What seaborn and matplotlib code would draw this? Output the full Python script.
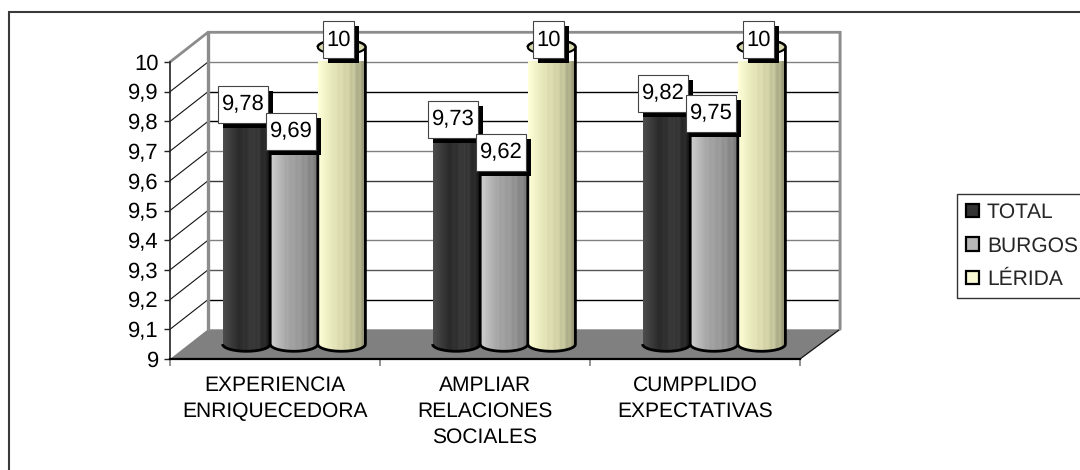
import matplotlib
matplotlib.use('Agg')
import numpy as np
import pandas as pd
import seaborn as sns
import matplotlib.pyplot as plt
from matplotlib.colors import LinearSegmentedColormap
from matplotlib.lines import Line2D
from matplotlib.patches import PathPatch, Polygon, Rectangle
from matplotlib.path import Path
from matplotlib.transforms import ScaledTranslation

# the values of the chart
categories = ['EXPERIENCIA\nENRIQUECEDORA', 'AMPLIAR\nRELACIONES\nSOCIALES', 'CUMPPLIDO\nEXPECTATIVAS']
total = [9.78, 9.73, 9.82]
burgos = [9.69, 9.62, 9.75]
lerida = [10, 10, 10]
value_labels = {'TOTAL': ['9,78', '9,73', '9,82'],
                'BURGOS': ['9,69', '9,62', '9,75'],
                'LÉRIDA': ['10', '10', '10']}
y_ticks = [9, 9.1, 9.2, 9.3, 9.4, 9.5, 9.6, 9.7, 9.8, 9.9, 10]
y_tick_labels = ['9', '9,1', '9,2', '9,3', '9,4', '9,5', '9,6', '9,7', '9,8', '9,9', '10']

W, H = 1080, 470
DEPTH_X = 38 / 210   # depth of the fake 3d box, in category units
DEPTH_Y = 0.1        # same, in value units
BACK_EXTRA = 2 / 210 # back wall ends a bit further right
FONT = 15.2
NUM_FONT = 16

sns.set_theme(style='white')
plt.rcParams['font.family'] = ['Liberation Sans', 'DejaVu Sans']
plt.rcParams['text.hinting'] = 'no_hinting'
plt.rcParams['text.hinting_factor'] = 1

df = pd.DataFrame({'categoria': categories * 3,
                   'valor': total + burgos + lerida,
                   'serie': ['TOTAL'] * 3 + ['BURGOS'] * 3 + ['LÉRIDA'] * 3})
palette = {'TOTAL': '#333333', 'BURGOS': '#b8b8b8', 'LÉRIDA': '#ffffd0'}
gradients = {'TOTAL': ['#4c4c4c', '#2a2a2a', '#3c3c3c', '#1c1c1c'],
             'BURGOS': ['#d0d0d0', '#a8a8a8', '#989898', '#7c7c7c'],
             'LÉRIDA': ['#ffffd8', '#e4e4b8', '#d0d0a4', '#98987a']}
cap_colors = {'TOTAL': '#555555', 'BURGOS': '#c8c8c8', 'LÉRIDA': '#d8d8b0'}

fig = plt.figure(figsize=(W / 100, H / 100), dpi=100)
ax = fig.add_axes([170 / W, 1 - 359 / H, 630 / W, 297 / H])
sns.barplot(data=df, x='categoria', y='valor', hue='serie', palette=palette,
            width=0.68, gap=0, ax=ax, zorder=3)
ax.set_xlim(-0.5, 2.5)
ax.set_ylim(9, 10)
ax.set_xlabel('')
ax.set_ylabel('')
ax.patch.set_visible(False)
ax.set_yticks(y_ticks)
ax.set_yticklabels(y_tick_labels, fontsize=NUM_FONT, color='black')
ax.set_xticks([-0.5, 0.5, 1.5, 2.5], minor=True)
ax.tick_params(axis='x', which='major', length=0, labelsize=FONT, pad=12, labelcolor='black')
ax.tick_params(axis='x', which='minor', length=5, width=1.2, color='#808080', bottom=True)
ax.tick_params(axis='y', length=4, width=1, color='#222222', left=True, pad=4)
for lab in ax.get_xticklabels():
    lab.set_linespacing(1.42)
sns.despine(ax=ax, top=True, right=True)
ax.spines['left'].set_color('#222222')
ax.spines['left'].set_linewidth(1.2)
ax.spines['bottom'].set_color('black')
ax.spines['bottom'].set_linewidth(1.6)
ax.spines['bottom'].set_zorder(2.5)

# floor and walls of the box
x0, x1 = -0.5, 2.5
xb = x1 + DEPTH_X + BACK_EXTRA
ax.add_patch(Polygon([(x0, 9), (x1, 9), (xb, 9 + DEPTH_Y), (x0 + DEPTH_X, 9 + DEPTH_Y)],
                     closed=True, facecolor='#808080', edgecolor='none', zorder=1, clip_on=False))
ax.plot([x1, xb], [9, 9 + DEPTH_Y], color='#111111', lw=0.9, zorder=1.2, clip_on=False)
line_colors = ['#000000', '#555555', '#808080', '#606060', '#3a3a3a', '#808080',
               '#000000', '#000000', '#808080']
for v, c in zip(y_ticks[1:10], line_colors):
    ax.plot([x0, x0 + DEPTH_X], [v, v + DEPTH_Y], color='#111111', lw=0.8, zorder=1, clip_on=False)
    ax.plot([x0 + DEPTH_X, xb], [v + DEPTH_Y, v + DEPTH_Y], color=c, lw=1.0, zorder=1, clip_on=False)
ax.plot([x0, x0 + DEPTH_X, xb, xb], [10, 10 + DEPTH_Y, 10 + DEPTH_Y, 9 + DEPTH_Y],
        color='#8c8c8c', lw=2.0, zorder=1.5, clip_on=False, solid_joinstyle='miter')
ax.plot([x0 + DEPTH_X, x0 + DEPTH_X], [10 + DEPTH_Y, 9 + DEPTH_Y], color='#8c8c8c', lw=2.4, zorder=1.5, clip_on=False)
ax.plot([xb + 0.006] * 2, [10 + DEPTH_Y, 9 + DEPTH_Y], color='#dddddd', lw=1.2, zorder=1.4, clip_on=False)

# turn the seaborn bars into cylinders, standing half way into the box
RY = 0.024
theta = np.linspace(0, np.pi, 40)
# shading across a cylinder, with the faint banding of the old office renderer
shade = np.linspace(0, 1, 48)
shade = np.clip(shade + 0.05 * np.sin(shade * 48) * (shade > 0.35), 0, 1).reshape(1, -1)
labels_todo = []
z = 3
for serie, container in zip(palette, ax.containers):
    cmap = LinearSegmentedColormap.from_list(serie, gradients[serie])
    for i, bar in enumerate(container):
        bar.set_visible(False)
        hw = bar.get_width() / 2
        cx = bar.get_x() + hw + DEPTH_X / 2
        top = bar.get_height() + DEPTH_Y / 2
        bot = 9 + DEPTH_Y / 2
        xs = np.r_[cx - hw * np.cos(theta), cx + hw * np.cos(theta)]
        ys = np.r_[top + RY * np.sin(theta), bot - RY * np.sin(theta)]
        outline = Path(np.c_[xs, ys], closed=False)
        body = PathPatch(outline, facecolor='none', edgecolor='black', lw=2.0, zorder=z + 0.2, clip_on=False)
        ax.add_patch(body)
        im = ax.imshow(shade, cmap=cmap, aspect='auto',
                       extent=(cx - hw, cx + hw, bot - RY, top + RY), zorder=z, interpolation='nearest')
        clip = PathPatch(outline, transform=ax.transData)
        im.set_clip_path(clip)
        im.set_clip_box(None)
        capx = cx + hw * np.cos(2 * theta)
        capy = top + RY * np.sin(2 * theta)
        ax.fill(capx, capy, facecolor=cap_colors[serie], edgecolor='black', lw=1.5, zorder=z + 0.3, clip_on=False)
        labels_todo.append((i, cx, top, value_labels[serie][i]))
        z += 0.01
ax.set_xlim(-0.5, 2.5)
ax.set_ylim(9, 10)

# data labels, white boxes with a hard black shadow
fig.canvas.draw()
renderer = fig.canvas.get_renderer()
labels_todo.sort(key=lambda t: t[0])
for n, (i, cx, top, s) in enumerate(labels_todo):
    zz = 10 + n
    tr = ScaledTranslation(cx, top, ax.transData)
    txt = ax.text(-3, 7.5, s, transform=tr, fontsize=NUM_FONT, color='black', ha='center', va='center',
                  zorder=zz + 0.2, clip_on=False)
    w = txt.get_window_extent(renderer).width + 7
    ax.add_patch(Rectangle((-3 - w / 2 + 5, 7.5 - 18.5 - 5), w, 37, transform=tr, facecolor='black',
                           edgecolor='none', zorder=zz, clip_on=False))
    ax.add_patch(Rectangle((-3 - w / 2, 7.5 - 18.5), w, 37, transform=tr, facecolor='white',
                           edgecolor='#444444', lw=0.8, zorder=zz + 0.1, clip_on=False))

# legend
handles, names = ax.get_legend_handles_labels()
leg = ax.legend(handles, names, loc='upper left', bbox_to_anchor=(957 / W, 1 - 194 / H),
                bbox_transform=fig.transFigure, fontsize=15, frameon=True, fancybox=False,
                edgecolor='#333333', framealpha=1, borderaxespad=0, borderpad=0.42,
                labelspacing=0.66, handlelength=0.62, handleheight=0.62, handletextpad=0.4)
leg.get_frame().set_linewidth(1.0)
leg.set_in_layout(False)
for p, serie in zip(leg.get_patches(), palette):
    p.set_edgecolor('black')
    p.set_linewidth(1.6)
    p.set_visible(True)

# outer frame of the picture, only top and left survive
fig.add_artist(Line2D([9 / W, 9 / W, 1], [0, 1 - 12 / H, 1 - 12 / H], transform=fig.transFigure,
                      color='#3a3a3a', lw=1.5, solid_joinstyle='miter'))

fig.savefig('out.png', dpi=100)
